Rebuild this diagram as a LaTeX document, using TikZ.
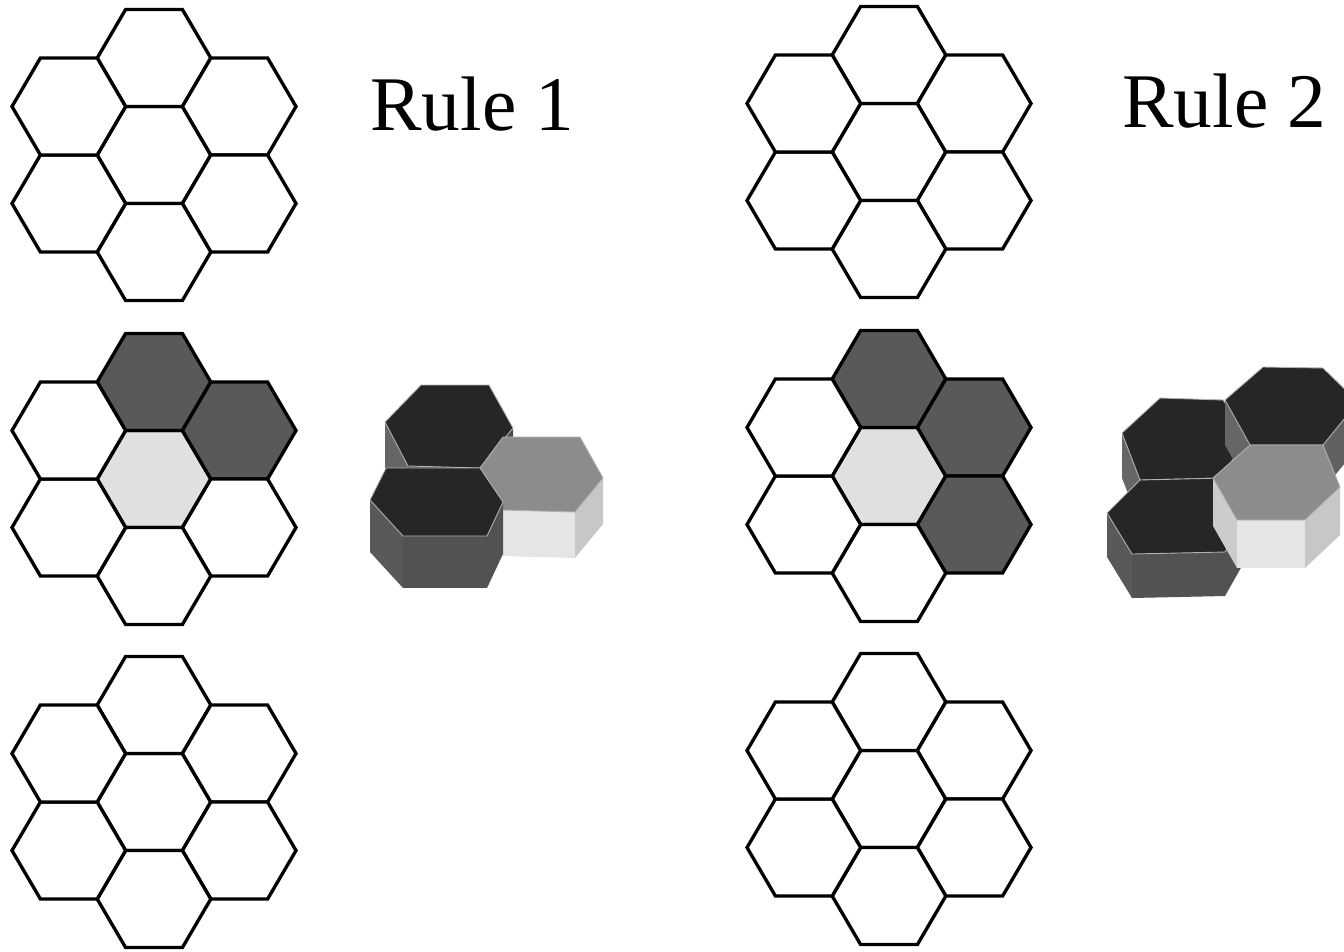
\documentclass[tikz,border=0pt]{standalone}
\usepackage{fontspec}
\setmainfont{Liberation Serif}
\usetikzlibrary{calc}

% 3-D hexagonal block: #1 prefix of the six top corners, #2 height,
% #3 top, #4 left side, #5 front side, #6 right side
\newcommand{\hexprism}[6]{%
    \fill[#4] (#1L) -- (#1BL) -- ($(#1BL)+(0,#2)$) -- ($(#1L)+(0,#2)$) -- cycle;
    \fill[#5] (#1BL) -- (#1BR) -- ($(#1BR)+(0,#2)$) -- ($(#1BL)+(0,#2)$) -- cycle;
    \fill[#6] (#1BR) -- (#1R) -- ($(#1R)+(0,#2)$) -- ($(#1BR)+(0,#2)$) -- cycle;
    \filldraw[prismtop, fill=#3] (#1L) -- (#1TL) -- (#1TR) -- (#1R) -- (#1BR) -- (#1BL) -- cycle;
}

\begin{document}
\begin{tikzpicture}[
    x=0.02cm, y=-0.02cm,
    hexline/.style={draw=black, line width=1.9pt, line join=miter},
    prismtop/.style={draw=black!30, line width=0.5pt, line join=round},
    rulelabel/.style={font=\fontsize{44}{50}\selectfont, inner sep=0pt, anchor=base west},
    pics/hexcell/.style={code={
        \filldraw[hexline, fill=#1] (-56.8,0) -- (-28.4,-48.5) -- (28.4,-48.5)
            -- (56.8,0) -- (28.4,48.5) -- (-28.4,48.5) -- cycle;
    }},
    pics/hexcell/.default=white,
    % centre, top, upper right, lower right, bottom, lower left, upper left
    pics/flower/.style n args={7}{code={
        \pic at (0,0) {hexcell=#1};
        \pic at (0,-97) {hexcell=#2};
        \pic at (85.2,-48.5) {hexcell=#3};
        \pic at (85.2,48.5) {hexcell=#4};
        \pic at (0,97) {hexcell=#5};
        \pic at (-85.2,48.5) {hexcell=#6};
        \pic at (-85.2,-48.5) {hexcell=#7};
    }}
]
    \useasboundingbox (0,0) rectangle (1344,951);

    % Rule 1 column
    \pic (r1top) at (154,155) {flower={white}{white}{white}{white}{white}{white}{white}};
    \pic (r1mid) at (154,479) {flower={black!12}{black!65}{black!65}{white}{white}{white}{white}};
    \pic (r1bot) at (154,802) {flower={white}{white}{white}{white}{white}{white}{white}};
    \node (rule1) [rulelabel] at (370,130) {Rule 1};

    % Rule 2 column
    \pic (r2top) at (889,152) {flower={white}{white}{white}{white}{white}{white}{white}};
    \pic (r2mid) at (889,476) {flower={black!12}{black!65}{black!65}{black!65}{white}{white}{white}};
    \pic (r2bot) at (889,799) {flower={white}{white}{white}{white}{white}{white}{white}};
    \node (rule2) [rulelabel] at (1122,127) {Rule 2};

    % Rule 1 blocks
    \path (385,422) coordinate (aL) (421,385) coordinate (aTL) (489,385) coordinate (aTR)
          (513,428) coordinate (aR) (480,468) coordinate (aBR) (408,466) coordinate (aBL);
    \hexprism{a}{48}{black!85}{black!60}{black!70}{black!70}
    \path (480,468) coordinate (cL) (503,437) coordinate (cTL) (580,437) coordinate (cTR)
          (603,478) coordinate (cR) (575,512) coordinate (cBR) (503,510) coordinate (cBL);
    \hexprism{c}{46}{black!45}{black!20}{black!10}{black!22}
    \path (370,500) coordinate (bL) (386,468) coordinate (bTL) (480,468) coordinate (bTR)
          (503,502) coordinate (bR) (487,536) coordinate (bBR) (403,536) coordinate (bBL);
    \hexprism{b}{52}{black!85}{black!65}{black!68}{black!68}

    % Rule 2 blocks
    \path (1122,433) coordinate (dL) (1160,398) coordinate (dTL) (1223,400) coordinate (dTR)
          (1247,433) coordinate (dR) (1223,478) coordinate (dBR) (1140,480) coordinate (dBL);
    \hexprism{d}{45}{black!85}{black!60}{black!70}{black!70}
    \path (1225,400) coordinate (eL) (1263,367) coordinate (eTL) (1323,368) coordinate (eTR)
          (1358,402) coordinate (eR) (1323,445) coordinate (eBR) (1250,445) coordinate (eBL);
    \hexprism{e}{45}{black!85}{black!60}{black!70}{black!62}
    \path (1107,513) coordinate (fL) (1140,480) coordinate (fTL) (1223,478) coordinate (fTR)
          (1247,513) coordinate (fR) (1225,552) coordinate (fBR) (1132,554) coordinate (fBL);
    \hexprism{f}{44}{black!85}{black!65}{black!68}{black!68}
    \path (1213,478) coordinate (gL) (1250,445) coordinate (gTL) (1323,445) coordinate (gTR)
          (1340,487) coordinate (gR) (1305,520) coordinate (gBR) (1237,520) coordinate (gBL);
    \hexprism{g}{48}{black!45}{black!20}{black!10}{black!22}

\end{tikzpicture}
\end{document}
